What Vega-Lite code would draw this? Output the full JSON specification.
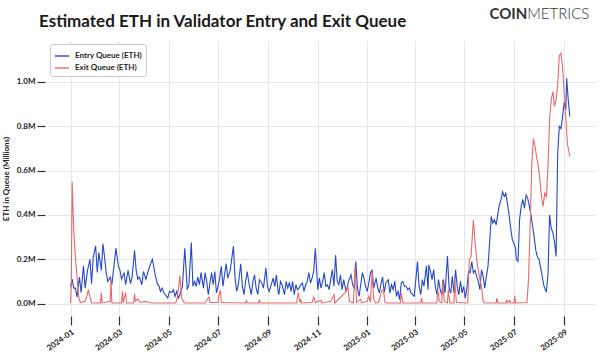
{
  "$schema": "https://vega.github.io/schema/vega-lite/v6.json",
  "width": 548,
  "height": 275,
  "autosize": {"type": "none"},
  "padding": {"left": 47, "top": 41, "right": 5, "bottom": 38},
  "background": "white",
  "config": {
    "font": "Lato",
    "view": {"stroke": null},
    "axis": {"labelFont": "Lato", "titleFont": "Lato", "labelColor": "#222", "titleColor": "#222"}
  },
  "title": {
    "text": "Estimated ETH in Validator Entry and Exit Queue",
    "anchor": "start",
    "frame": "group",
    "dx": -8,
    "dy": 36,
    "offset": 12,
    "font": "Lato",
    "fontSize": 17,
    "fontWeight": "bold",
    "color": "#1a1a1a"
  },
  "datasets": {
    "entry": [
      {"d":"2024-01-01","v":0.075},{"d":"2024-01-03","v":0.11},{"d":"2024-01-05","v":0.07},{"d":"2024-01-07","v":0.07},{"d":"2024-01-09","v":0.03},{"d":"2024-01-12","v":0.12},{"d":"2024-01-14","v":0.05},{"d":"2024-01-17","v":0.17},{"d":"2024-01-19","v":0.07},{"d":"2024-01-22","v":0.15},{"d":"2024-01-25","v":0.2},{"d":"2024-01-27","v":0.09},{"d":"2024-01-29","v":0.21},
      {"d":"2024-02-01","v":0.26},{"d":"2024-02-03","v":0.14},{"d":"2024-02-05","v":0.23},{"d":"2024-02-08","v":0.15},{"d":"2024-02-10","v":0.27},{"d":"2024-02-12","v":0.21},{"d":"2024-02-14","v":0.14},{"d":"2024-02-16","v":0.1},{"d":"2024-02-19","v":0.12},{"d":"2024-02-21","v":0.085},{"d":"2024-02-23","v":0.15},{"d":"2024-02-26","v":0.25},{"d":"2024-02-29","v":0.17},
      {"d":"2024-03-02","v":0.15},{"d":"2024-03-04","v":0.11},{"d":"2024-03-07","v":0.14},{"d":"2024-03-09","v":0.085},{"d":"2024-03-12","v":0.15},{"d":"2024-03-15","v":0.09},{"d":"2024-03-17","v":0.12},{"d":"2024-03-20","v":0.24},{"d":"2024-03-22","v":0.15},{"d":"2024-03-24","v":0.11},{"d":"2024-03-26","v":0.12},{"d":"2024-03-29","v":0.085},{"d":"2024-03-31","v":0.145},
      {"d":"2024-04-03","v":0.11},{"d":"2024-04-06","v":0.15},{"d":"2024-04-08","v":0.17},{"d":"2024-04-11","v":0.2},{"d":"2024-04-14","v":0.14},{"d":"2024-04-17","v":0.09},{"d":"2024-04-19","v":0.08},{"d":"2024-04-21","v":0.055},{"d":"2024-04-23","v":0.07},{"d":"2024-04-25","v":0.05},{"d":"2024-04-27","v":0.04},{"d":"2024-04-30","v":0.025},
      {"d":"2024-05-02","v":0.055},{"d":"2024-05-05","v":0.05},{"d":"2024-05-07","v":0.063},{"d":"2024-05-09","v":0.033},{"d":"2024-05-11","v":0.055},{"d":"2024-05-13","v":0.025},{"d":"2024-05-15","v":0.04},{"d":"2024-05-18","v":0.078},{"d":"2024-05-21","v":0.25},{"d":"2024-05-24","v":0.063},{"d":"2024-05-26","v":0.085},{"d":"2024-05-29","v":0.276},{"d":"2024-05-31","v":0.078},
      {"d":"2024-06-02","v":0.1},{"d":"2024-06-04","v":0.078},{"d":"2024-06-06","v":0.12},{"d":"2024-06-08","v":0.085},{"d":"2024-06-10","v":0.14},{"d":"2024-06-13","v":0.07},{"d":"2024-06-15","v":0.14},{"d":"2024-06-17","v":0.1},{"d":"2024-06-19","v":0.04},{"d":"2024-06-21","v":0.093},{"d":"2024-06-23","v":0.14},{"d":"2024-06-25","v":0.085},{"d":"2024-06-27","v":0.145},{"d":"2024-06-29","v":0.048},
      {"d":"2024-07-01","v":0.078},{"d":"2024-07-03","v":0.115},{"d":"2024-07-05","v":0.168},{"d":"2024-07-07","v":0.078},{"d":"2024-07-09","v":0.13},{"d":"2024-07-11","v":0.18},{"d":"2024-07-13","v":0.115},{"d":"2024-07-16","v":0.15},{"d":"2024-07-20","v":0.26},{"d":"2024-07-22","v":0.115},{"d":"2024-07-24","v":0.055},{"d":"2024-07-26","v":0.085},{"d":"2024-07-29","v":0.18},{"d":"2024-07-31","v":0.078},
      {"d":"2024-08-02","v":0.04},{"d":"2024-08-04","v":0.1},{"d":"2024-08-06","v":0.145},{"d":"2024-08-08","v":0.093},{"d":"2024-08-11","v":0.04},{"d":"2024-08-13","v":0.1},{"d":"2024-08-15","v":0.13},{"d":"2024-08-17","v":0.07},{"d":"2024-08-19","v":0.04},{"d":"2024-08-21","v":0.108},{"d":"2024-08-24","v":0.093},{"d":"2024-08-26","v":0.07},{"d":"2024-08-29","v":0.16},{"d":"2024-08-31","v":0.078},
      {"d":"2024-09-02","v":0.055},{"d":"2024-09-04","v":0.078},{"d":"2024-09-07","v":0.115},{"d":"2024-09-09","v":0.078},{"d":"2024-09-11","v":0.13},{"d":"2024-09-13","v":0.055},{"d":"2024-09-14","v":0.04},{"d":"2024-09-16","v":0.1},{"d":"2024-09-18","v":0.085},{"d":"2024-09-21","v":0.04},{"d":"2024-09-23","v":0.1},{"d":"2024-09-25","v":0.07},{"d":"2024-09-27","v":0.096},{"d":"2024-09-29","v":0.055},
      {"d":"2024-10-01","v":0.1},{"d":"2024-10-03","v":0.04},{"d":"2024-10-05","v":0.085},{"d":"2024-10-07","v":0.063},{"d":"2024-10-09","v":0.07},{"d":"2024-10-11","v":0.085},{"d":"2024-10-13","v":0.093},{"d":"2024-10-15","v":0.055},{"d":"2024-10-17","v":0.085},{"d":"2024-10-19","v":0.1},{"d":"2024-10-21","v":0.14},{"d":"2024-10-23","v":0.093},{"d":"2024-10-25","v":0.115},{"d":"2024-10-27","v":0.145},{"d":"2024-10-29","v":0.25},
      {"d":"2024-11-01","v":0.063},{"d":"2024-11-03","v":0.115},{"d":"2024-11-05","v":0.07},{"d":"2024-11-07","v":0.1},{"d":"2024-11-09","v":0.14},{"d":"2024-11-11","v":0.078},{"d":"2024-11-13","v":0.085},{"d":"2024-11-15","v":0.063},{"d":"2024-11-17","v":0.108},{"d":"2024-11-19","v":0.153},{"d":"2024-11-21","v":0.078},{"d":"2024-11-23","v":0.218},{"d":"2024-11-25","v":0.1},{"d":"2024-11-27","v":0.085},{"d":"2024-11-29","v":0.13},
      {"d":"2024-12-01","v":0.063},{"d":"2024-12-03","v":0.108},{"d":"2024-12-06","v":0.055},{"d":"2024-12-09","v":0.1},{"d":"2024-12-12","v":0.13},{"d":"2024-12-14","v":0.085},{"d":"2024-12-16","v":0.07},{"d":"2024-12-18","v":0.19},{"d":"2024-12-20","v":0.07},{"d":"2024-12-22","v":0.033},{"d":"2024-12-24","v":0.085},{"d":"2024-12-26","v":0.14},{"d":"2024-12-28","v":0.115},{"d":"2024-12-30","v":0.078},
      {"d":"2025-01-01","v":0.055},{"d":"2025-01-03","v":0.093},{"d":"2025-01-05","v":0.14},{"d":"2025-01-07","v":0.15},{"d":"2025-01-09","v":0.07},{"d":"2025-01-12","v":0.115},{"d":"2025-01-14","v":0.07},{"d":"2025-01-16","v":0.048},{"d":"2025-01-18","v":0.09},{"d":"2025-01-20","v":0.12},{"d":"2025-01-22","v":0.05},{"d":"2025-01-24","v":0.093},{"d":"2025-01-27","v":0.108},{"d":"2025-01-29","v":0.048},{"d":"2025-01-31","v":0.085},
      {"d":"2025-02-02","v":0.063},{"d":"2025-02-04","v":0.1},{"d":"2025-02-06","v":0.033},{"d":"2025-02-08","v":0.055},{"d":"2025-02-10","v":0.018},{"d":"2025-02-12","v":0.093},{"d":"2025-02-14","v":0.1},{"d":"2025-02-16","v":0.078},{"d":"2025-02-18","v":0.078},{"d":"2025-02-20","v":0.063},{"d":"2025-02-22","v":0.07},{"d":"2025-02-24","v":0.048},{"d":"2025-02-26","v":0.04},{"d":"2025-02-28","v":0.033},
      {"d":"2025-03-02","v":0.108},{"d":"2025-03-04","v":0.19},{"d":"2025-03-06","v":0.078},{"d":"2025-03-08","v":0.04},{"d":"2025-03-10","v":0.108},{"d":"2025-03-12","v":0.078},{"d":"2025-03-15","v":0.17},{"d":"2025-03-17","v":0.063},{"d":"2025-03-18","v":0.175},{"d":"2025-03-20","v":0.145},{"d":"2025-03-22","v":0.108},{"d":"2025-03-24","v":0.153},{"d":"2025-03-26","v":0.078},{"d":"2025-03-28","v":0.04},{"d":"2025-03-30","v":0.108},
      {"d":"2025-04-01","v":0.063},{"d":"2025-04-03","v":0.04},{"d":"2025-04-05","v":0.108},{"d":"2025-04-07","v":0.048},{"d":"2025-04-10","v":0.215},{"d":"2025-04-12","v":0.07},{"d":"2025-04-14","v":0.048},{"d":"2025-04-16","v":0.123},{"d":"2025-04-18","v":0.048},{"d":"2025-04-20","v":0.153},{"d":"2025-04-22","v":0.078},{"d":"2025-04-24","v":0.04},{"d":"2025-04-26","v":0.1},{"d":"2025-04-28","v":0.048},{"d":"2025-04-30","v":0.078},
      {"d":"2025-05-02","v":0.025},{"d":"2025-05-04","v":0.07},{"d":"2025-05-06","v":0.145},{"d":"2025-05-08","v":0.14},{"d":"2025-05-10","v":0.19},{"d":"2025-05-12","v":0.138},{"d":"2025-05-14","v":0.15},{"d":"2025-05-16","v":0.123},{"d":"2025-05-18","v":0.1},{"d":"2025-05-20","v":0.063},{"d":"2025-05-22","v":0.153},{"d":"2025-05-24","v":0.123},{"d":"2025-05-26","v":0.07},{"d":"2025-05-28","v":0.123},{"d":"2025-05-30","v":0.168},
      {"d":"2025-06-01","v":0.273},{"d":"2025-06-03","v":0.393},{"d":"2025-06-05","v":0.363},{"d":"2025-06-07","v":0.378},{"d":"2025-06-09","v":0.355},{"d":"2025-06-11","v":0.4},{"d":"2025-06-13","v":0.445},{"d":"2025-06-15","v":0.468},{"d":"2025-06-17","v":0.505},{"d":"2025-06-19","v":0.483},{"d":"2025-06-21","v":0.498},{"d":"2025-06-23","v":0.45},{"d":"2025-06-25","v":0.4},{"d":"2025-06-27","v":0.34},{"d":"2025-06-29","v":0.29},
      {"d":"2025-07-01","v":0.27},{"d":"2025-07-03","v":0.25},{"d":"2025-07-04","v":0.2},{"d":"2025-07-06","v":0.19},{"d":"2025-07-08","v":0.38},{"d":"2025-07-10","v":0.44},{"d":"2025-07-12","v":0.47},{"d":"2025-07-14","v":0.43},{"d":"2025-07-16","v":0.49},{"d":"2025-07-18","v":0.475},{"d":"2025-07-20","v":0.44},{"d":"2025-07-22","v":0.4},{"d":"2025-07-24","v":0.35},{"d":"2025-07-26","v":0.3},{"d":"2025-07-28","v":0.24},{"d":"2025-07-30","v":0.21},
      {"d":"2025-08-01","v":0.2},{"d":"2025-08-03","v":0.16},{"d":"2025-08-05","v":0.12},{"d":"2025-08-07","v":0.08},{"d":"2025-08-09","v":0.06},{"d":"2025-08-10","v":0.055},{"d":"2025-08-12","v":0.13},{"d":"2025-08-14","v":0.4},{"d":"2025-08-16","v":0.34},{"d":"2025-08-18","v":0.32},{"d":"2025-08-20","v":0.28},{"d":"2025-08-22","v":0.213},{"d":"2025-08-23","v":0.45},{"d":"2025-08-24","v":0.68},{"d":"2025-08-26","v":0.8},{"d":"2025-08-28","v":0.79},{"d":"2025-08-30","v":0.844},
      {"d":"2025-09-01","v":0.91},{"d":"2025-09-03","v":0.874},{"d":"2025-09-04","v":1.017},{"d":"2025-09-06","v":0.92},{"d":"2025-09-08","v":0.844}
    ],
    "exit": [
      {"d":"2024-01-01","v":0.003},{"d":"2024-01-02","v":0.1},{"d":"2024-01-03","v":0.55},{"d":"2024-01-05","v":0.33},{"d":"2024-01-07","v":0.21},{"d":"2024-01-09","v":0.125},{"d":"2024-01-11","v":0.03},{"d":"2024-01-13","v":0.005},{"d":"2024-01-19","v":0.01},{"d":"2024-01-21","v":0.03},{"d":"2024-01-23","v":0.063},{"d":"2024-01-25","v":0.03},{"d":"2024-01-27","v":0.003},
      {"d":"2024-02-07","v":0.003},{"d":"2024-02-08","v":0.05},{"d":"2024-02-09","v":0.003},{"d":"2024-02-19","v":0.01},{"d":"2024-02-20","v":0.11},{"d":"2024-02-21","v":0.003},
      {"d":"2024-03-04","v":0.003},{"d":"2024-03-05","v":0.055},{"d":"2024-03-06","v":0.003},{"d":"2024-03-09","v":0.05},{"d":"2024-03-10","v":0.003},{"d":"2024-03-19","v":0.003},{"d":"2024-03-20","v":0.045},{"d":"2024-03-21","v":0.01},{"d":"2024-03-24","v":0.02},{"d":"2024-03-27","v":0.005},
      {"d":"2024-04-02","v":0.01},{"d":"2024-04-10","v":0.003},{"d":"2024-05-10","v":0.003},{"d":"2024-05-12","v":0.033},{"d":"2024-05-15","v":0.126},{"d":"2024-05-17","v":0.025},{"d":"2024-05-19","v":0.01},{"d":"2024-05-21","v":0.003},
      {"d":"2024-06-15","v":0.003},{"d":"2024-06-17","v":0.015},{"d":"2024-06-20","v":0.03},{"d":"2024-06-21","v":0.005},{"d":"2024-07-01","v":0.005},{"d":"2024-07-02","v":0.035},{"d":"2024-07-04","v":0.06},{"d":"2024-07-05","v":0.005},
      {"d":"2024-08-04","v":0.003},{"d":"2024-08-05","v":0.013},{"d":"2024-08-06","v":0.003},{"d":"2024-08-20","v":0.003},{"d":"2024-08-21","v":0.018},{"d":"2024-08-22","v":0.003},
      {"d":"2024-10-06","v":0.003},{"d":"2024-10-08","v":0.05},{"d":"2024-10-10","v":0.005},{"d":"2024-10-11","v":0.02},{"d":"2024-10-12","v":0.003},{"d":"2024-10-25","v":0.005},{"d":"2024-10-27","v":0.03},{"d":"2024-10-29","v":0.005},
      {"d":"2024-11-05","v":0.015},{"d":"2024-11-06","v":0.003},{"d":"2024-11-17","v":0.01},{"d":"2024-11-21","v":0.04},{"d":"2024-11-22","v":0.003},
      {"d":"2024-12-05","v":0.05},{"d":"2024-12-08","v":0.08},{"d":"2024-12-10","v":0.01},{"d":"2024-12-15","v":0.003},{"d":"2024-12-17","v":0.17},{"d":"2024-12-19","v":0.005},{"d":"2024-12-24","v":0.02},{"d":"2024-12-25","v":0.003},
      {"d":"2025-01-01","v":0.01},{"d":"2025-01-03","v":0.033},{"d":"2025-01-05","v":0.005},{"d":"2025-01-07","v":0.145},{"d":"2025-01-09","v":0.02},{"d":"2025-01-11","v":0.003},{"d":"2025-01-15","v":0.005},{"d":"2025-01-19","v":0.06},{"d":"2025-01-21","v":0.06},{"d":"2025-01-23","v":0.005},{"d":"2025-01-25","v":0.003},
      {"d":"2025-02-11","v":0.003},{"d":"2025-02-12","v":0.048},{"d":"2025-02-14","v":0.003},{"d":"2025-03-08","v":0.003},{"d":"2025-03-09","v":0.025},{"d":"2025-03-10","v":0.003},{"d":"2025-03-28","v":0.003},{"d":"2025-03-29","v":0.063},{"d":"2025-03-31","v":0.01},
      {"d":"2025-04-03","v":0.003},{"d":"2025-04-04","v":0.108},{"d":"2025-04-06","v":0.01},{"d":"2025-04-10","v":0.003},{"d":"2025-04-11","v":0.063},{"d":"2025-04-13","v":0.003},{"d":"2025-04-18","v":0.003},{"d":"2025-04-19","v":0.108},{"d":"2025-04-21","v":0.005},
      {"d":"2025-05-05","v":0.003},{"d":"2025-05-07","v":0.2},{"d":"2025-05-09","v":0.21},{"d":"2025-05-12","v":0.378},{"d":"2025-05-14","v":0.28},{"d":"2025-05-16","v":0.2},{"d":"2025-05-18","v":0.15},{"d":"2025-05-20","v":0.108},{"d":"2025-05-22","v":0.078},{"d":"2025-05-24","v":0.01},{"d":"2025-05-26","v":0.003},
      {"d":"2025-06-09","v":0.003},{"d":"2025-06-10","v":0.025},{"d":"2025-06-11","v":0.003},{"d":"2025-06-21","v":0.003},{"d":"2025-06-22","v":0.018},{"d":"2025-06-23","v":0.003},{"d":"2025-06-26","v":0.015},{"d":"2025-06-27","v":0.003},
      {"d":"2025-07-01","v":0.003},{"d":"2025-07-02","v":0.035},{"d":"2025-07-03","v":0.003},{"d":"2025-07-17","v":0.005},{"d":"2025-07-19","v":0.108},{"d":"2025-07-21","v":0.35},{"d":"2025-07-23","v":0.63},{"d":"2025-07-25","v":0.745},{"d":"2025-07-27","v":0.71},{"d":"2025-07-29","v":0.66},{"d":"2025-07-31","v":0.62},
      {"d":"2025-08-02","v":0.56},{"d":"2025-08-04","v":0.483},{"d":"2025-08-06","v":0.438},{"d":"2025-08-08","v":0.498},{"d":"2025-08-10","v":0.483},{"d":"2025-08-12","v":0.62},{"d":"2025-08-14","v":0.83},{"d":"2025-08-16","v":0.92},{"d":"2025-08-18","v":0.956},{"d":"2025-08-20","v":0.89},{"d":"2025-08-22","v":0.92},{"d":"2025-08-24","v":0.99},{"d":"2025-08-26","v":1.12},{"d":"2025-08-28","v":1.13},{"d":"2025-08-30","v":1.07},
      {"d":"2025-09-01","v":0.95},{"d":"2025-09-03","v":0.84},{"d":"2025-09-05","v":0.72},{"d":"2025-09-08","v":0.664}
    ],
    "brand": [
      {"d":"2025-10-02","v":1.306,"t":"METRICS"}
    ]
  },
  "layer": [
    {
      "data": {"name": "entry"},
      "mark": {"type": "line", "strokeWidth": 1.1, "interpolate": "linear"},
      "encoding": {
        "x": {
          "field": "d",
          "type": "temporal",
          "scale": {"domain": ["2023-12-03", "2025-10-09"]},
          "axis": {
            "title": null,
            "format": "%Y-%m",
            "tickCount": {"interval": "month", "step": 2},
            "domain": false,
            "grid": true,
            "gridColor": "#e6e6e6",
            "gridWidth": 1,
            "tickColor": "#333",
            "tickSize": 9,
            "tickWidth": 1.2,
            "labelAngle": -35,
            "labelAlign": "right",
            "labelBaseline": "top",
            "labelFontSize": 8,
            "labelFontWeight": "bold",
            "labelPadding": 3
          }
        },
        "y": {
          "field": "v",
          "type": "quantitative",
          "scale": {"domain": [-0.056, 1.185], "nice": false, "zero": false},
          "axis": {
            "title": "ETH in Queue (Millions)",
            "titleFontSize": 8,
            "titleFontWeight": "bold",
            "titlePadding": 6,
            "values": [0, 0.2, 0.4, 0.6, 0.8, 1.0],
            "labelExpr": "format(datum.value, '.1f') + 'M'",
            "domain": false,
            "grid": true,
            "gridColor": "#e6e6e6",
            "gridWidth": 1,
            "tickColor": "#333",
            "tickSize": 8,
            "tickWidth": 1.2,
            "offset": 2,
            "labelFontSize": 8,
            "labelFontWeight": "bold",
            "labelPadding": 2
          }
        },
        "color": {
          "datum": "Entry Queue (ETH)",
          "type": "nominal",
          "scale": {"domain": ["Entry Queue (ETH)", "Exit Queue (ETH)"], "range": ["#2448c8", "#e8696b"]},
          "legend": {
            "title": null,
            "orient": "top-left",
            "offset": 3,
            "padding": 4,
            "strokeColor": "#cccccc",
            "fillColor": "white",
            "cornerRadius": 2,
            "symbolType": "stroke",
            "symbolSize": 200,
            "symbolStrokeWidth": 1.4,
            "labelFont": "Lato",
            "labelFontSize": 8,
            "labelFontWeight": "bold",
            "labelColor": "#222",
            "labelOffset": 5,
            "rowPadding": 0
          }
        }
      }
    },
    {
      "data": {"name": "exit"},
      "mark": {"type": "line", "strokeWidth": 1.1, "interpolate": "linear"},
      "encoding": {
        "x": {"field": "d", "type": "temporal"},
        "y": {"field": "v", "type": "quantitative"},
        "color": {"datum": "Exit Queue (ETH)", "type": "nominal"}
      }
    },
    {
      "data": {"name": "brand"},
      "mark": {"type": "text", "clip": false, "align": "right", "baseline": "middle", "font": "Lato", "fontSize": 15, "fontWeight": 300, "color": "#333"},
      "encoding": {
        "x": {"field": "d", "type": "temporal"},
        "y": {"field": "v", "type": "quantitative"},
        "text": {"field": "t"}
      }
    },
    {
      "data": {"name": "brand"},
      "mark": {"type": "text", "clip": false, "align": "right", "baseline": "middle", "dx": -62, "font": "Lato", "fontSize": 15, "fontWeight": "bold", "color": "#333", "text": "COIN"},
      "encoding": {
        "x": {"field": "d", "type": "temporal"},
        "y": {"field": "v", "type": "quantitative"}
      }
    }
  ]
}
